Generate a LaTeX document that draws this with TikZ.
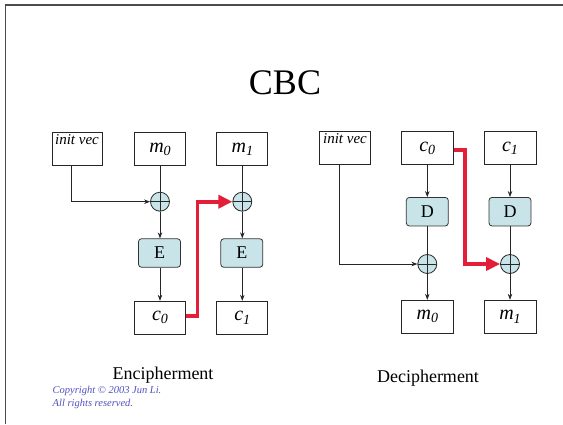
\documentclass[tikz,border=0pt]{standalone}
\usepackage{fontspec}
\setmainfont{Liberation Serif}
\usetikzlibrary{arrows.meta}

\definecolor{boxfill}{RGB}{200,228,232}
\definecolor{chainred}{RGB}{226,30,56}
\definecolor{notecol}{RGB}{80,80,190}

% italic letter with a lowered italic index
\newcommand{\blk}[2]{\textit{#1}\raisebox{-0.35ex}{\fontsize{14}{14}\selectfont\textit{#2}}}

\tikzset{
  x=1pt, y=-1pt,
  blockbox/.style={draw=black!85, line width=0.8pt, minimum width=51pt, minimum height=33pt,
    inner sep=0pt, font=\fontsize{20}{20}\selectfont},
  cipherbox/.style={draw=black!80, line width=0.8pt, fill=boxfill, rounded corners=3pt,
    minimum width=42pt, minimum height=28.5pt, inner sep=0pt, font=\fontsize{18}{18}\selectfont},
  xorgate/.style={circle, draw=black!85, line width=0.8pt, fill=boxfill, minimum size=19pt,
    inner sep=0pt,
    path picture={\draw[line width=0.7pt] (path picture bounding box.north) -- (path picture bounding box.south)
      (path picture bounding box.west) -- (path picture bounding box.east);}},
  ivtext/.style={font=\fontsize{15}{15}\selectfont\itshape, inner sep=2.5pt, anchor=north},
  flow/.style={line width=0.7pt, black!85},
  flowarrow/.style={flow, -{Stealth[length=6pt,width=4.5pt]}},
  chain/.style={line width=3.6pt, chainred, -{Triangle[length=14pt,width=13pt]}},
}

\begin{document}
\begin{tikzpicture}
\useasboundingbox (0,0) rectangle (563,424);

% slide frame
\draw[line width=1.6pt, black!70] (5.5,424) -- (5.5,5) -- (563,5);

% title
\node[font=\fontsize{36}{36}\selectfont] (title) at (285,83) {CBC};

% ---------------- encipherment ----------------
\node[blockbox, minimum width=50pt] (ivA) at (77,149) {};
\node[ivtext] (ivAtxt) at (ivA.north) {init vec};
\node[blockbox] (mA0) at (160,149) {\blk{m}{0}};
\node[blockbox] (mA1) at (242.3,149) {\blk{m}{1}};
\node[xorgate] (xA0) at (160,201.7) {};
\node[xorgate] (xA1) at (242.3,201.7) {};
\node[cipherbox] (eA0) at (159.5,253) {E};
\node[cipherbox] (eA1) at (241.8,253) {E};
\node[blockbox] (cA0) at (160,317.7) {\blk{c}{0}};
\node[blockbox] (cA1) at (242.3,317.7) {\blk{c}{1}};

\coordinate (ivAout) at ([xshift=-5.5pt]ivA.south);
\draw[flowarrow] (ivAout) |- (xA0.west);
\draw[flow] (mA0.south) -- (xA0.north);
\draw[flow] (mA1.south) -- (xA1.north);
\draw[flowarrow] (xA0.south) -- (xA0.south |- eA0.north);
\draw[flowarrow] (xA1.south) -- (xA1.south |- eA1.north);
\draw[flowarrow] (xA0 |- eA0.south) -- (cA0.north);
\draw[flowarrow] (xA1 |- eA1.south) -- (cA1.north);

\coordinate (bendA) at ([xshift=11.5pt,yshift=1.5pt]cA0.east);
\draw[chain] ([yshift=1.5pt]cA0.east) -- (bendA) |- (xA1.west);

\node[font=\fontsize{18}{18}\selectfont] (encLabel) at (163,375) {Encipherment};

% ---------------- decipherment ----------------
\node[blockbox, minimum width=51.5pt] (ivB) at (345,148) {};
\node[ivtext] (ivBtxt) at (ivB.north) {init vec};
\node[blockbox, minimum width=52pt] (cB0) at (427.3,148) {\blk{c}{0}};
\node[blockbox, minimum width=52pt] (cB1) at (510,148) {\blk{c}{1}};
\node[cipherbox] (dB0) at (427.3,211.7) {D};
\node[cipherbox] (dB1) at (510,211.7) {D};
\node[xorgate] (xB0) at (427.3,264) {};
\node[xorgate] (xB1) at (510,264) {};
\node[blockbox, minimum width=52pt] (mB0) at (427.3,316.7) {\blk{m}{0}};
\node[blockbox, minimum width=52pt] (mB1) at (510,316.7) {\blk{m}{1}};

\coordinate (ivBout) at ([xshift=-6pt]ivB.south);
\draw[flowarrow] (ivBout) |- (xB0.west);
\draw[flowarrow] (cB0.south) -- (dB0.north);
\draw[flowarrow] (cB1.south) -- (dB1.north);
\draw[flow] (dB0.south) -- (xB0.north);
\draw[flow] (dB1.south) -- (xB1.north);
\draw[flowarrow] (xB0.south) -- (mB0.north);
\draw[flowarrow] (xB1.south) -- (mB1.north);

\coordinate (bendB) at ([xshift=11pt,yshift=-2pt]cB0.east);
\draw[chain] ([yshift=-2pt]cB0.east) -- (bendB) |- (xB1.west);

\node[font=\fontsize{18}{18}\selectfont] (decLabel) at (428,378) {Decipherment};

% copyright note
\node[anchor=north west, align=left, inner sep=0pt, text=notecol,
  font=\fontsize{10.5}{13.5}\selectfont\itshape] (note) at (52.5,386)
  {Copyright © 2003 Jun Li.\\All rights reserved.};
\end{tikzpicture}
\end{document}
